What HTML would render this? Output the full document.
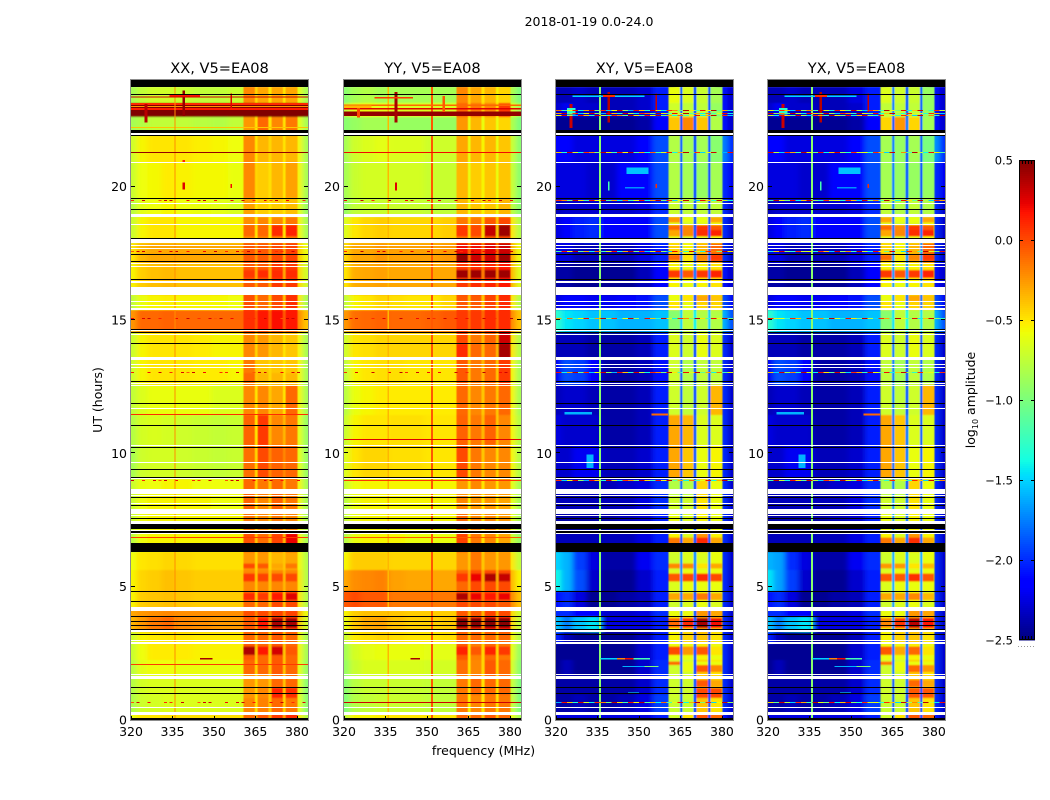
<!DOCTYPE html>
<html>
<head>
<meta charset="utf-8">
<title>2018-01-19 amplitude waterfall</title>
<style>
html,body{margin:0;padding:0;background:#fff;}
svg{display:block;}
text{font-family:"DejaVu Sans","Liberation Sans",sans-serif;fill:#000;}
</style>
</head>
<body>
<svg id="chart" xmlns="http://www.w3.org/2000/svg" width="1050" height="800" viewBox="0 0 1050 800">
<defs>
<filter id="softWide" x="-10%" y="-2%" width="120%" height="104%"><feGaussianBlur stdDeviation="2.6 0.9"/></filter>
<filter id="softBand" x="-2%" y="-2%" width="104%" height="104%"><feGaussianBlur stdDeviation="0.6 0.8"/></filter>
</defs>
<rect x="0" y="0" width="1050" height="800" fill="#fff"/>
<text x="589" y="26" font-size="12.5" text-anchor="middle">2018-01-19 0.0-24.0</text>
<text x="483.5" y="755" font-size="12.5" text-anchor="middle">frequency (MHz)</text>
<text transform="translate(102,400) rotate(-90)" font-size="12.5" text-anchor="middle">UT (hours)</text>
<text transform="translate(975,400) rotate(-90)" font-size="12.5" text-anchor="middle">log<tspan font-size="8" dy="3">10</tspan><tspan dy="-3"> amplitude</tspan></text>
</svg>
<script>
// Frequency bin edges (MHz) shared by all panels
const freqEdges = [320,322,326,331,336,342,349,355,360.6,364.8,365.8,369.8,370.8,374.9,375.9,380,382,384];
// Time bin edges (UT hours), top to bottom
const timeEdges = [23.75,23.14,22.61,21.94,20.93,19.58,18.86,17.89,17.14,15.94,15.38,14.55,13.58,12.56,11.44,10.31,9.04,8.44,7.73,7.01,6.3,5.63,4.84,4.16,3.86,3.3,2.85,2.25,1.69,0.94,0.26,0];
const xTicks = [320,335,350,365,380];
const yTicks = [0,5,10,15,20];
const colorbarTicks = [0.5,0,-0.5,-1,-1.5,-2,-2.5];
const vMin = -2.5;
const vMax = 0.5;

// log10 amplitude, rows follow timeEdges, columns follow freqEdges
const xxValues = [
[-.85,-.75,-.7,-.7,-.72,-.75,-.75,-.72,-.2,-.45,-.3,-.5,-.3,-.5,-.3,-.6,-.85],
[.5,.5,.5,.5,.5,.5,.5,.5,.5,.5,.5,.5,.5,.5,.5,.5,.5],
[-.85,-.8,-.75,-.75,-.75,-.78,-.8,-.75,-.25,-.5,-.1,-.5,-.2,-.5,-.15,-.6,-.85],
[-.7,-.55,-.5,-.5,-.5,-.53,-.55,-.58,-.2,-.5,-.35,-.45,-.35,-.5,-.35,-.55,-.85],
[-.72,-.58,-.56,-.52,-.54,-.56,-.56,-.6,-.2,-.45,-.42,-.48,-.35,-.5,-.28,-.55,-.85],
[-.78,-.62,-.58,-.55,-.58,-.6,-.62,-.66,-.28,-.5,-.42,-.5,-.42,-.5,-.38,-.6,-.9],
[-.72,-.55,-.5,-.5,-.55,-.55,-.55,-.55,-.22,-.5,-.2,-.5,-.2,-.5,-.15,-.55,-.85],
[-.5,-.35,-.3,-.3,-.3,-.3,-.3,-.3,-.05,-.25,-.05,-.25,0,-.3,.02,-.4,-.6],
[-.55,-.42,-.38,-.36,-.38,-.38,-.38,-.38,-.05,-.3,-.05,-.3,.05,-.3,.05,-.45,-.7],
[-.75,-.6,-.55,-.53,-.55,-.55,-.56,-.58,-.02,-.4,-.1,-.4,0,-.4,.08,-.5,-.85],
[-.25,-.1,-.1,-.08,-.1,-.1,-.1,-.1,.08,-.05,.15,-.05,.18,-.05,.15,-.2,-.4],
[-.72,-.55,-.5,-.5,-.5,-.52,-.55,-.55,-.2,-.45,-.25,-.4,-.35,-.5,-.4,-.55,-.85],
[-.7,-.55,-.5,-.5,-.5,-.52,-.52,-.55,-.15,-.4,-.4,-.45,-.4,-.5,-.4,-.55,-.85],
[-.75,-.65,-.6,-.6,-.6,-.6,-.65,-.65,-.2,-.5,-.2,-.4,-.3,-.5,-.1,-.55,-.85],
[-.8,-.68,-.66,-.68,-.7,-.72,-.74,-.72,-.08,-.5,.05,-.35,-.2,-.35,-.15,-.6,-.9],
[-.85,-.7,-.68,-.68,-.7,-.72,-.74,-.72,-.12,-.45,0,-.2,-.08,-.2,-.1,-.6,-.9],
[-.72,-.6,-.58,-.55,-.55,-.58,-.58,-.58,-.1,-.45,-.15,-.4,-.1,-.4,-.15,-.55,-.85],
[-.72,-.58,-.55,-.55,-.55,-.55,-.58,-.58,-.08,-.45,-.2,-.4,-.08,-.4,-.15,-.55,-.85],
[-.72,-.58,-.55,-.55,-.55,-.55,-.55,-.55,-.15,-.45,-.2,-.4,-.15,-.4,-.2,-.55,-.85],
[-.78,-.58,-.55,-.55,-.55,-.55,-.55,-.55,-.02,-.4,-.12,-.35,.02,-.35,.22,-.55,-.85],
[-.58,-.5,-.48,-.45,-.46,-.48,-.48,-.48,-.25,-.45,-.25,-.45,-.35,-.4,-.3,-.55,-.8],
[-.55,-.45,-.42,-.38,-.4,-.42,-.42,-.42,-.2,-.4,-.2,-.38,-.2,-.35,-.2,-.5,-.8],
[-.55,-.42,-.4,-.38,-.4,-.42,-.42,-.42,-.1,-.4,-.1,-.38,0,-.38,0,-.5,-.8],
[-.3,-.25,-.22,-.2,-.22,-.22,-.22,-.22,-.02,-.2,0,-.2,.02,-.2,.02,-.3,-.6],
[-.35,-.25,-.15,-.1,-.2,-.22,-.25,-.25,-.05,-.25,0,-.2,.05,-.2,.05,-.4,-.7],
[-.7,-.55,-.52,-.5,-.5,-.52,-.52,-.52,-.1,-.4,-.1,-.4,-.05,-.4,-.1,-.55,-.85],
[-.72,-.58,-.52,-.52,-.52,-.54,-.54,-.54,-.05,-.4,-.1,-.4,-.05,-.4,-.1,-.55,-.85],
[-.78,-.62,-.58,-.58,-.6,-.6,-.6,-.6,-.1,-.45,-.1,-.4,-.05,-.4,-.1,-.6,-.9],
[-.8,-.68,-.65,-.65,-.65,-.65,-.65,-.65,-.25,-.45,-.25,-.4,-.1,-.4,-.1,-.6,-.95],
[-.82,-.7,-.68,-.65,-.65,-.65,-.65,-.65,-.2,-.5,-.18,-.4,-.1,-.45,-.15,-.6,-.95],
[-.6,-.5,-.5,-.48,-.48,-.48,-.48,-.48,-.1,-.3,-.05,-.3,.05,-.3,.1,-.5,-.8]
];
const yyValues = [
[-.95,-.85,-.8,-.85,-.85,-.85,-.85,-.85,-.2,-.45,-.3,-.5,-.35,-.55,-.45,-.8,-1],
[-.75,-.62,-.6,-.62,-.65,-.65,-.65,-.65,-.1,-.4,-.15,-.4,-.2,-.45,.05,-.65,-.85],
[-.95,-.9,-.85,-.85,-.9,-.9,-.9,-.9,-.25,-.6,-.35,-.6,-.4,-.6,-.45,-.8,-1],
[-.85,-.7,-.65,-.62,-.65,-.65,-.7,-.7,-.3,-.6,-.35,-.55,-.35,-.6,-.4,-.7,-.95],
[-.85,-.72,-.68,-.68,-.68,-.68,-.72,-.72,-.35,-.6,-.42,-.55,-.4,-.6,-.4,-.7,-.95],
[-.9,-.75,-.72,-.72,-.72,-.72,-.75,-.75,-.35,-.6,-.4,-.55,-.4,-.6,-.35,-.75,-.95],
[-.65,-.5,-.45,-.42,-.45,-.45,-.45,-.42,-.15,-.45,-.15,-.45,-.05,-.4,0,-.5,-.8],
[-.45,-.3,-.3,-.25,-.28,-.28,-.28,-.25,.2,-.1,.2,-.1,.25,-.1,.3,-.3,-.6],
[-.5,-.32,-.3,-.28,-.3,-.3,-.3,-.3,.05,-.15,.1,-.15,.12,-.15,.15,-.35,-.65],
[-.75,-.55,-.5,-.45,-.48,-.5,-.5,-.45,-.05,-.4,-.05,-.4,.02,-.4,.1,-.5,-.8],
[-.25,-.12,-.1,-.08,-.1,-.1,-.08,-.05,.05,-.1,.05,-.1,.1,-.1,.1,-.2,-.4],
[-.7,-.5,-.48,-.45,-.45,-.45,-.45,-.45,0,-.4,-.15,-.35,-.08,-.35,.3,-.5,-.8],
[-.75,-.55,-.5,-.48,-.48,-.5,-.5,-.5,-.05,-.4,-.15,-.35,-.1,-.4,.05,-.55,-.85],
[-.78,-.6,-.55,-.52,-.52,-.52,-.52,-.52,-.1,-.4,-.2,-.4,-.15,-.4,-.1,-.55,-.85],
[-.72,-.55,-.5,-.5,-.48,-.48,-.5,-.5,-.08,-.4,-.15,-.35,-.08,-.4,-.2,-.55,-.8],
[-.65,-.5,-.45,-.45,-.48,-.48,-.5,-.5,0,-.45,-.15,-.4,-.2,-.45,-.2,-.55,-.8],
[-.72,-.58,-.55,-.55,-.55,-.55,-.55,-.55,-.25,-.5,-.2,-.5,-.25,-.5,-.25,-.6,-.85],
[-.78,-.6,-.55,-.55,-.55,-.55,-.55,-.55,-.2,-.55,-.25,-.5,-.25,-.5,-.3,-.6,-.85],
[-.75,-.58,-.55,-.55,-.55,-.55,-.55,-.55,-.1,-.5,-.2,-.5,-.2,-.5,-.25,-.6,-.85],
[-.8,-.6,-.55,-.55,-.55,-.6,-.6,-.6,.02,-.5,-.15,-.5,-.2,-.55,-.3,-.7,-.9],
[-.55,-.42,-.42,-.42,-.45,-.45,-.45,-.45,-.25,-.4,-.15,-.4,-.25,-.4,-.25,-.5,-.75],
[-.3,-.22,-.2,-.18,-.28,-.3,-.3,-.3,-.1,-.3,0,-.3,0,-.3,0,-.35,-.55],
[-.05,0,-.05,-.05,-.15,-.15,-.15,-.15,0,-.15,0,-.15,0,-.15,-.05,-.2,-.4],
[-.55,-.42,-.38,-.38,-.4,-.42,-.42,-.42,-.05,-.35,-.05,-.35,.02,-.35,0,-.45,-.7],
[-.6,-.4,-.3,-.28,-.38,-.42,-.42,-.4,.1,-.2,.1,-.2,.15,-.2,.15,-.45,-.75],
[-.72,-.52,-.48,-.45,-.48,-.5,-.5,-.48,-.1,-.4,-.1,-.4,-.1,-.4,-.1,-.55,-.8],
[-.85,-.68,-.62,-.6,-.6,-.6,-.62,-.62,-.05,-.5,-.18,-.45,-.1,-.45,-.15,-.6,-.9],
[-.9,-.72,-.66,-.66,-.66,-.66,-.68,-.68,-.12,-.5,-.2,-.45,-.05,-.45,-.1,-.65,-.95],
[-.95,-.78,-.72,-.72,-.72,-.72,-.74,-.74,-.15,-.5,-.1,-.5,-.1,-.5,-.1,-.7,-1],
[-.98,-.8,-.75,-.72,-.72,-.72,-.75,-.75,-.15,-.55,-.2,-.5,-.15,-.5,-.15,-.7,-1],
[-.75,-.55,-.55,-.52,-.5,-.5,-.5,-.5,-.1,-.4,-.1,-.4,-.05,-.4,-.1,-.6,-.85]
];
const xyValues = [
[-2.35,-2.35,-2.3,-2.35,-2.35,-2.35,-2.3,-2.05,-.6,-1.85,-.65,-1.9,-.72,-1.9,-.85,-2.1,-2.3],
[-2.3,-2.2,-2.3,-2.3,-2.35,-2.35,-2.3,-2.05,-.7,-1.85,-.75,-1.9,-.75,-1.9,-.9,-2.1,-2.3],
[-2.45,-2.45,-2.45,-2.45,-2.45,-2.45,-2.4,-2.15,-.4,-1.9,-.2,-1.85,-.4,-1.9,-.8,-2.1,-2.3],
[-2.15,-2.15,-2.25,-2.25,-2.25,-2.25,-2.15,-1.9,-.8,-1.85,-.85,-1.9,-.85,-1.9,-.95,-1.75,-2],
[-2.25,-2.25,-2.25,-2.3,-2.3,-2.15,-2.15,-1.9,-.8,-1.85,-.85,-1.9,-.9,-1.95,-.85,-2,-2.2],
[-2.35,-2.3,-2.3,-2.3,-2.3,-2.3,-2.25,-2,-.72,-1.85,-.75,-1.9,-.75,-1.95,-.75,-2,-2.3],
[-2.25,-2.15,-2.05,-2,-2.15,-2.15,-2.15,-1.9,-.65,-1.85,-.7,-1.85,-.65,-1.85,-.6,-2,-2.3],
[-2.25,-2.25,-2.35,-2.35,-2.35,-2.35,-2.25,-2.05,-.45,-1.75,-.55,-1.75,-.35,-1.75,-.1,-2,-2.3],
[-2.4,-2.4,-2.45,-2.45,-2.45,-2.45,-2.35,-2.15,-.55,-1.75,-.6,-1.75,-.55,-1.75,-.5,-2.1,-2.3],
[-2.25,-2.15,-2.15,-2.2,-2.2,-2.15,-2.1,-1.9,-.5,-1.75,-.6,-1.85,-.45,-1.85,-.45,-1.9,-2.2],
[-1.3,-1.45,-1.5,-1.55,-1.55,-1.6,-1.6,-1.55,-.95,-1.5,-.75,-1.4,-.8,-1.5,-.8,-1.6,-1.9],
[-2.35,-2.35,-2.35,-2.4,-2.4,-2.4,-2.35,-2.05,-.65,-1.85,-.7,-1.9,-.6,-1.9,-.65,-2,-2.3],
[-2.2,-1.9,-1.95,-2.15,-2.4,-2.4,-2.35,-2.1,-.7,-1.85,-.8,-1.9,-.75,-1.9,-.75,-2,-2.3],
[-2.35,-2.3,-2.3,-2.35,-2.4,-2.4,-2.35,-2.05,-.7,-1.85,-.75,-1.9,-.7,-1.9,-.35,-2,-2.3],
[-2.25,-2.3,-2.3,-2.3,-2.4,-2.4,-2.35,-2.05,-.3,-1.85,-.35,-1.85,-.65,-1.9,-.65,-2,-2.3],
[-2.3,-2.3,-2.2,-2.2,-2.35,-2.35,-2.3,-2.05,-.3,-1.85,-.4,-1.85,-.6,-1.9,-.55,-2,-2.3],
[-2.35,-2.35,-2.35,-2.35,-2.35,-2.3,-2.25,-2,-.8,-1.85,-.8,-1.9,-.45,-1.9,-.6,-2,-2.3],
[-2.35,-2.35,-2.35,-2.35,-2.35,-2.35,-2.25,-2,-.7,-1.75,-.7,-1.85,-.5,-1.85,-.6,-2,-2.3],
[-2.4,-2.4,-2.4,-2.4,-2.4,-2.35,-2.3,-2.05,-.6,-1.75,-.65,-1.85,-.55,-1.85,-.6,-2,-2.3],
[-2.35,-2.35,-2.35,-2.35,-2.35,-2.35,-2.25,-2.05,-.55,-1.85,-.65,-1.85,-.25,-1.85,-.55,-2,-2.3],
[-1.5,-1.6,-1.95,-2.25,-2.4,-2.4,-2.2,-2,-.7,-1.7,-.65,-1.7,-.65,-1.7,-.6,-2,-2.3],
[-1.4,-1.6,-1.9,-2.3,-2.45,-2.45,-2.3,-2.05,-.65,-1.7,-.6,-1.75,-.6,-1.75,-.6,-2,-2.3],
[-2.1,-2,-2.25,-2.45,-2.45,-2.4,-2.35,-2.05,-.7,-1.75,-.65,-1.85,-.6,-1.85,-.65,-2,-2.3],
[-2,-2,-2.15,-2.15,-2.3,-2.3,-2.25,-2,-.6,-1.75,-.6,-1.85,-.25,-1.85,-.3,-2,-2.3],
[-1.55,-1.75,-1.55,-1.45,-2.25,-2.25,-2.25,-2.05,-.55,-1.75,-.45,-1.85,-.25,-1.85,-.35,-2,-2.3],
[-2.05,-2.35,-2.45,-2.45,-2.45,-2.45,-2.35,-2.05,-.55,-1.85,-.45,-1.85,-.4,-1.85,-.5,-2,-2.3],
[-2.45,-2.45,-2.45,-2.45,-2.45,-2.45,-2.3,-2.05,-.6,-1.85,-.6,-1.85,-.55,-1.85,-.6,-2,-2.3],
[-2.45,-2.35,-2.45,-2.45,-2.45,-2.45,-2.3,-2,-.7,-1.85,-.7,-1.9,-.4,-1.9,-.5,-2,-2.3],
[-2.4,-2.4,-2.4,-2.4,-2.4,-2.4,-2.3,-2,-.72,-1.9,-.65,-1.85,-.4,-1.9,-.45,-2,-2.3],
[-2.4,-2.4,-2.35,-2.4,-2.4,-2.35,-2.25,-1.95,-.72,-1.9,-.72,-1.9,-.4,-1.9,-.5,-2,-2.3],
[-2.25,-2.25,-2.25,-2.25,-2.25,-2.25,-2.25,-2.05,-.7,-1.9,-.5,-1.9,-.05,-1.9,-.1,-2.1,-2.4]
];
const yxValues = [
[-2.35,-2.35,-2.3,-2.35,-2.35,-2.35,-2.25,-2.05,-.65,-1.75,-.7,-1.85,-.72,-1.85,-.9,-2.1,-2.3],
[-2.3,-2.2,-2.3,-2.3,-2.35,-2.35,-2.3,-2.05,-.75,-1.75,-.75,-1.85,-.75,-1.85,-.9,-2.1,-2.3],
[-2.45,-2.45,-2.45,-2.45,-2.45,-2.45,-2.4,-2.15,-.45,-1.85,-.25,-1.75,-.45,-1.85,-.85,-2.1,-2.3],
[-2.15,-2.15,-2.25,-2.25,-2.25,-2.25,-2.15,-1.9,-.85,-1.75,-.9,-1.85,-.85,-1.85,-1,-1.7,-2],
[-2.25,-2.25,-2.25,-2.3,-2.3,-2.15,-2.15,-1.9,-.85,-1.75,-.9,-1.85,-.9,-1.9,-.9,-2,-2.2],
[-2.35,-2.3,-2.3,-2.3,-2.3,-2.3,-2.25,-2,-.75,-1.75,-.8,-1.85,-.75,-1.9,-.8,-2,-2.3],
[-2.25,-2.15,-2.05,-2,-2.15,-2.15,-2.15,-1.9,-.65,-1.75,-.7,-1.75,-.65,-1.75,-.6,-2,-2.3],
[-2.25,-2.25,-2.35,-2.35,-2.35,-2.35,-2.25,-2.05,-.45,-1.65,-.55,-1.65,-.35,-1.65,-.1,-2,-2.3],
[-2.4,-2.4,-2.45,-2.45,-2.45,-2.45,-2.35,-2.15,-.55,-1.65,-.6,-1.65,-.55,-1.65,-.5,-2.1,-2.3],
[-2.25,-2.15,-2.15,-2.2,-2.2,-2.15,-2.1,-1.9,-.5,-1.65,-.6,-1.75,-.45,-1.75,-.45,-1.9,-2.2],
[-1.3,-1.45,-1.5,-1.55,-1.55,-1.6,-1.6,-1.55,-.95,-1.45,-.75,-1.35,-.8,-1.45,-.8,-1.6,-1.9],
[-2.35,-2.35,-2.35,-2.4,-2.4,-2.4,-2.35,-2.05,-.65,-1.75,-.7,-1.85,-.6,-1.85,-.65,-2,-2.3],
[-2.2,-1.9,-1.95,-2.15,-2.4,-2.4,-2.35,-2.1,-.75,-1.75,-.85,-1.85,-.75,-1.85,-.8,-2,-2.3],
[-2.35,-2.3,-2.3,-2.35,-2.4,-2.4,-2.35,-2.05,-.7,-1.75,-.75,-1.85,-.7,-1.85,-.35,-2,-2.3],
[-2.25,-2.3,-2.3,-2.3,-2.4,-2.4,-2.35,-2.05,-.3,-1.75,-.4,-1.75,-.65,-1.85,-.65,-2,-2.3],
[-2.3,-2.3,-2.2,-2.2,-2.35,-2.35,-2.3,-2.05,-.3,-1.75,-.4,-1.75,-.6,-1.85,-.55,-2,-2.3],
[-2.35,-2.35,-2.35,-2.35,-2.35,-2.3,-2.25,-2,-.8,-1.75,-.8,-1.85,-.45,-1.85,-.6,-2,-2.3],
[-2.35,-2.35,-2.35,-2.35,-2.35,-2.35,-2.25,-2,-.7,-1.65,-.7,-1.75,-.5,-1.75,-.6,-2,-2.3],
[-2.4,-2.4,-2.4,-2.4,-2.4,-2.35,-2.3,-2.05,-.6,-1.65,-.65,-1.75,-.55,-1.75,-.6,-2,-2.3],
[-2.35,-2.35,-2.35,-2.35,-2.35,-2.35,-2.25,-2.05,-.55,-1.75,-.65,-1.75,-.25,-1.75,-.55,-2,-2.3],
[-1.6,-1.65,-2,-2.25,-2.4,-2.4,-2.2,-2,-.7,-1.6,-.65,-1.6,-.65,-1.6,-.6,-2,-2.3],
[-1.45,-1.65,-1.95,-2.3,-2.45,-2.45,-2.3,-2.05,-.65,-1.6,-.6,-1.65,-.6,-1.65,-.6,-2,-2.3],
[-2.1,-2,-2.25,-2.45,-2.45,-2.4,-2.35,-2.05,-.7,-1.65,-.65,-1.75,-.6,-1.75,-.65,-2,-2.3],
[-2,-2,-2.15,-2.15,-2.3,-2.3,-2.25,-2,-.6,-1.65,-.6,-1.75,-.25,-1.75,-.3,-2,-2.3],
[-1.55,-1.75,-1.55,-1.45,-2.25,-2.25,-2.25,-2.05,-.55,-1.65,-.45,-1.75,-.25,-1.75,-.35,-2,-2.3],
[-2.05,-2.35,-2.45,-2.45,-2.45,-2.45,-2.35,-2.05,-.55,-1.75,-.45,-1.75,-.4,-1.75,-.5,-2,-2.3],
[-2.45,-2.45,-2.45,-2.45,-2.45,-2.45,-2.3,-2.05,-.6,-1.75,-.6,-1.75,-.55,-1.75,-.6,-2,-2.3],
[-2.45,-2.35,-2.45,-2.45,-2.45,-2.45,-2.3,-2,-.7,-1.75,-.7,-1.85,-.4,-1.85,-.5,-2,-2.3],
[-2.4,-2.4,-2.4,-2.4,-2.4,-2.4,-2.3,-2,-.72,-1.85,-.65,-1.75,-.4,-1.85,-.45,-2,-2.3],
[-2.4,-2.4,-2.35,-2.4,-2.4,-2.35,-2.25,-1.95,-.72,-1.85,-.72,-1.85,-.4,-1.85,-.5,-2,-2.3],
[-2.25,-2.25,-2.25,-2.25,-2.25,-2.25,-2.25,-2.05,-.7,-1.85,-.5,-1.85,-.05,-1.85,-.1,-2.1,-2.4]
];

// Brighter stretches inside the four receiver bands [UT top, UT bottom, band1, band2, band3, band4]
const xxBandStripes = [[18.56,18.13,-.1,-.1,.1,.12],[5.87,5.69,0,-.05,-.3,-.15],[5.5,5.19,.05,.02,0,0],[4.77,4.5,.1,.05,.15,.25],[3.82,3.45,-.05,.15,.4,.4],[2.75,2.44,.38,.15,.28,-.05],[1.2,.82,-.25,-.2,.12,.08],[16.88,16.58,.05,.1,.1,.1],[13.02,12.7,-.1,-.35,-.35,-.35]];
const yyBandStripes = [[18.56,18.13,.05,0,.32,.42],[16.88,16.58,.42,.42,.42,.42],[17.5,17.2,.45,.3,.3,.42],[3.82,3.45,.48,.48,.48,.48],[5.5,5.19,.05,.22,.38,.32],[4.77,4.5,.38,.22,.15,.22],[2.75,2.44,.12,-.05,.12,.05],[14.1,13.6,.1,-.1,-.1,.4]];
const xyBandStripes = [[5.87,5.69,-.2,-.2,-.5,-.3],[5.5,5.19,-.05,0,.1,0],[4.77,4.5,-.3,-.3,-.15,-.3],[3.82,3.45,-.1,.1,.4,.2],[2.75,2.44,0,-.25,-.05,-.5],[2.19,2.06,-.1,-.6,-.6,-.6],[2.06,1.8,-.7,-.6,-.05,-.2],[1.5,1.24,-.7,-.7,-.05,-.3],[1.2,.82,-.7,-.7,0,0],[6.85,6.6,-.15,-.3,.1,-.3],[18.56,18.38,-.1,-.2,.05,-.05],[18.38,18.13,-.3,-.2,.08,.12],[18.86,18.66,-.25,-.6,-.6,-.3],[17.45,17.24,-.1,-.5,-.2,.05],[16.88,16.58,.05,-.05,.05,.12],[15.94,15.7,-.6,-.5,-.3,-.4]];
const yxBandStripes = [[5.87,5.69,-.25,-.25,-.5,-.35],[5.5,5.19,-.05,-.05,.08,-.05],[4.77,4.5,-.3,-.3,-.2,-.35],[3.82,3.45,-.2,.05,.35,.15],[2.75,2.44,-.05,-.3,-.1,-.5],[2.19,2.06,-.15,-.6,-.6,-.6],[2.06,1.8,-.7,-.6,-.1,-.25],[1.5,1.24,-.7,-.7,-.1,-.3],[1.2,.82,-.7,-.7,-.05,-.05],[6.85,6.6,-.15,-.3,.08,-.3],[18.56,18.38,-.1,-.2,.05,-.05],[18.38,18.13,-.3,-.2,.08,.12],[18.86,18.66,-.3,-.6,-.6,-.3],[17.45,17.24,-.1,-.5,-.2,.05],[16.88,16.58,.05,-.05,.05,.12],[15.94,15.7,-.6,-.5,-.3,-.4]];

// Flagged time ranges [UT top, UT bottom]
const whiteFlags = [[22,21.94],[20.93,20.89],[19.39,19.35],[18.99,18.85],[18.6,18.56],[18.05,17.88],[17.81,17.78],[17.7,17.66],[17.14,17.1],[17.02,16.99],[16.47,16.38],[16.25,15.94],[15.71,15.68],[15.56,15.53],[15.45,15.38],[14.61,14.58],[14.49,14.44],[13.6,13.5],[13.35,13.31],[13.24,13.2],[12.62,12.59],[12.56,12.53],[11.7,11.66],[10.3,10.26],[9.68,9.64],[9.06,9.03],[8.66,8.46],[8.44,8.4],[8.14,8.1],[7.9,7.73],[7.69,7.65],[7.46,7.35],[7.14,7.11],[7.01,6.98],[4.23,4.09],[3.38,3.29],[3,2.96],[2.93,2.86],[1.73,1.69],[1.66,1.53],[.49,.45],[.29,.19]];
const blackFlags = [[24,23.75],[23.48,23.44],[22.13,22],[21.94,21.9],[19.58,19.54],[19.16,19.13],[18.08,18.05],[17.48,17.44],[17.21,17.18],[16.53,16.5],[14.66,14.63],[14.54,14.51],[14.14,14.1],[12.7,12.66],[11.89,11.85],[11.06,11.03],[10.24,10.2],[9.41,9.38],[9.11,9.07],[8.36,8.33],[8.05,8.01],[7.58,7.54],[7.34,7.15],[7.1,7.02],[6.62,6.58],[6.56,6.31],[4.84,4.8],[4.46,4.43],[3.89,3.85],[3.7,3.66],[3.55,3.51],[3.41,3.38],[3.23,3.19],[1.24,1.2],[1.01,.98],[.06,0]];

// Localised features [MHz from, MHz to, UT top, UT bottom, value]
const xxPatches = [[320,384,23.14,23.07,.1],[320,384,23.03,22.98,-.25],[320,384,22.95,22.88,.15],[320,384,22.24,22.2,-.4],[335.7,336.1,24,0,-.22],[338.6,339.6,23.6,22.65,.45],[334,345,23.47,23.38,.15],[324.9,326,23.1,22.4,.35],[355.9,356.6,23.5,22.95,.25],[338.7,339.5,20.15,19.9,.25],[338.7,339.5,21,20.9,.1],[355.9,356.6,20.1,19.95,.2],[345,349.5,2.33,2.27,.4],[320,384,23.38,23.35,.3]];
const yyPatches = [[351.5,352.1,24,0,-.05],[335.7,336.2,24,0,-.35],[320,384,22.82,22.65,.45],[320,384,23.08,23.03,-.1],[320,384,22.95,22.9,.25],[338.3,339.3,23.55,22.4,.4],[331,345,23.36,23.3,.05],[324.7,325.8,23.05,22.6,0],[355.6,356.6,23.4,22.8,-.05],[338.4,339.2,20.15,19.85,.25],[344,347.5,2.33,2.27,.4],[320,330,23.05,22.95,-.35]];
const xyPatches = [[335.6,336.2,24,0,-.95],[338.7,339.5,23.55,22.4,.35],[326,352,23.42,23.36,-1.5],[337,341.4,23.48,23.36,.1],[324.9,326,23.1,22.2,.3],[324,327,22.95,22.7,-1.3],[355.9,356.6,23.5,22.8,.3],[345.5,353.5,20.72,20.48,-1.55],[338.8,339.4,20.2,19.85,-1.2],[355.9,356.5,20.1,19.95,.1],[331,333.5,9.95,9.45,-1.6],[336,342,2.33,2.27,-1.5],[342,345,2.33,2.27,-.2],[345,348,2.33,2.27,.2],[348,354,2.33,2.27,-1.2],[344,352,2.03,2,-1.6],[352,357,2.03,2,-1],[354.5,360.5,11.5,11.42,-.1],[323,333,11.55,11.45,-1.6],[346,350,1.03,1,-1.4],[345,352,19.98,19.93,-1.7]];
const yxPatches = [[335.6,336.2,24,0,-.95],[338.7,339.5,23.55,22.4,.35],[326,352,23.42,23.36,-1.5],[337,341.4,23.48,23.36,.1],[324.9,326,23.1,22.2,.3],[324,327,22.95,22.7,-1.3],[355.9,356.6,23.5,22.8,.3],[345.5,353.5,20.72,20.48,-1.55],[338.8,339.4,20.2,19.85,-1.2],[355.9,356.5,20.1,19.95,.1],[331,333.5,9.95,9.45,-1.6],[336,342,2.33,2.27,-1.5],[342,345,2.33,2.27,-.2],[345,348,2.33,2.27,.2],[348,354,2.33,2.27,-1.2],[344,352,2.03,2,-1.6],[352,357,2.03,2,-1],[354.5,360.5,11.5,11.42,-.1],[323,333,11.55,11.45,-1.6],[346,350,1.03,1,-1.4],[345,352,19.98,19.93,-1.7]];

// Full-width single-row lines [UT, value]
const xxSolidLines = [[21.29,.45],[11.46,.1],[6.85,.05],[2.1,.05]];
const yySolidLines = [[21.29,.2],[10.54,.25],[9.01,.05],[6.85,-.05],[.66,.3]];
const xySolidLines = [];
const yxSolidLines = [];

// Speckled RFI rows
const xxSpeckleRows = [19.49,17.57,15.09,13.04,9.01,.66];
const yySpeckleRows = [19.49,17.57,15.09,13.04];
const xySpeckleRows = [22.88,22.77,22.68,21.29,19.49,17.57,15.09,13.04,9.01,.66];
const yxSpeckleRows = [22.88,22.77,22.68,21.29,19.49,17.57,15.09,13.04,9.01,.66];

const xxSpeckle = [.1,null,.3,null,null,-.05,.3,.3,null,null,.2,null,.25,.3,null,.15,null,null,.2,null,.3,null,.1,null,.25,-.05,.3,null,.2,null,null,.1];
const yySpeckle = [.2,null,null,.3,null,.1,null,null,.35,null,null,.2,.3,null,null,.1,null,.25,null,null,.3,null,null,.2,null,.35,.1,null,.3,null,.2,null];
const xySpeckle = [-.1,-1.2,-.6,.2,-1.4,-.3,.35,-1,.1,-1.5,-.6,.3,-.9,-1.6,.2,-.4,-1.3,.3,-.7,-1.4,.1,-.2,-1,.35,-.5,-1.2,.2,-.6,.35,-1.1,-.3,-1.4];
const yxSpeckle = [-.6,-1.3,.1,-.4,-1.5,.3,-.9,-.2,-1.2,.35,-.7,-1.4,.2,-.5,-1.1,.3,-.8,-1.5,.1,-.3,-1.2,.35,-.6,-1,.2,-1.4,-.4,.3,-.9,-1.3,.1,-.7];

const panelList = [
  {key:'xx',title:'XX, V5=EA08',left:131,values:xxValues,stripes:xxBandStripes,patches:xxPatches,solid:xxSolidLines,speckleRows:xxSpeckleRows,speckle:xxSpeckle,dotFill:.45},
  {key:'yy',title:'YY, V5=EA08',left:344,values:yyValues,stripes:yyBandStripes,patches:yyPatches,solid:yySolidLines,speckleRows:yySpeckleRows,speckle:yySpeckle,dotFill:.45},
  {key:'xy',title:'XY, V5=EA08',left:556,values:xyValues,stripes:xyBandStripes,patches:xyPatches,solid:xySolidLines,speckleRows:xySpeckleRows,speckle:xySpeckle,dotFill:1},
  {key:'yx',title:'YX, V5=EA08',left:768,values:yxValues,stripes:yxBandStripes,patches:yxPatches,solid:yxSolidLines,speckleRows:yxSpeckleRows,speckle:yxSpeckle,dotFill:1}
];

const NS = 'http://www.w3.org/2000/svg';
const root = document.getElementById('chart');
const panelWidth = 177;
const panelHeight = 640;
const panelTop = 80;
const freqMin = 320;
const freqMax = 384;
const utMax = 24;
const bandColumns = [8,10,12,14];

function jetPart(t, stops){
  for(let i=1;i<stops.length;i++){
    if(t<=stops[i][0]){
      const a=stops[i-1], b=stops[i];
      return a[1]+(b[1]-a[1])*(t-a[0])/(b[0]-a[0]);
    }
  }
  return stops[stops.length-1][1];
}
function jet(v){
  const t=Math.max(0,Math.min(1,(v-vMin)/(vMax-vMin)));
  const r=jetPart(t,[[0,0],[.35,0],[.66,1],[.89,1],[1,.5]]);
  const g=jetPart(t,[[0,0],[.125,0],[.375,1],[.64,1],[.91,0],[1,0]]);
  const b=jetPart(t,[[0,.5],[.11,1],[.34,1],[.65,0],[1,0]]);
  return 'rgb('+Math.round(r*255)+','+Math.round(g*255)+','+Math.round(b*255)+')';
}
function yScale(ut){ return panelTop+(utMax-ut)*panelHeight/utMax; }
function svgEl(tag, attrs, parent){
  const el=document.createElementNS(NS,tag);
  for(const k in attrs){ el.setAttribute(k,attrs[k]); }
  parent.appendChild(el);
  return el;
}

panelList.forEach(function(p){
  const xScale=function(f){ return p.left+(f-freqMin)*panelWidth/(freqMax-freqMin); };
  const panel=svgEl('g',{},root);
  
  

  const clip=svgEl('clipPath',{id:'clip-'+p.key},panel);
  svgEl('rect',{x:p.left,y:panelTop,width:panelWidth,height:panelHeight},clip);
  const clipped=svgEl('g',{'clip-path':'url(#clip-'+p.key+')'},panel);
  
  
  const wide=svgEl('g',{filter:'url(#softWide)','shape-rendering':'crispEdges'},clipped);
  const band=svgEl('g',{filter:'url(#softBand)','shape-rendering':'crispEdges'},clipped);

  p.values.forEach(function(row,ri){
    row.forEach(function(val,ci){
      const inBand=ci>=8 && ci<=14;
      const pad0=ci===0?8:(ci===15?6:0);
      const pad1=ci===row.length-1?8:(ci===7?6:0);
      const x0=xScale(freqEdges[ci])-pad0;
      const x1=xScale(freqEdges[ci+1])+pad1;
      const y0=yScale(timeEdges[ri]);
      const y1=yScale(timeEdges[ri+1]);
      const cell=svgEl('rect',{x:x0,y:y0,width:x1-x0+.5,height:y1-y0+.5,fill:jet(val)},inBand?band:wide);
      
      
    });
  });
  p.stripes.forEach(function(s){
    bandColumns.forEach(function(col,bi){
      const x0=xScale(freqEdges[col]);
      const x1=xScale(freqEdges[col+1]);
      const y0=yScale(s[0]);
      const y1=yScale(s[1]);
      const stripe=svgEl('rect',{x:x0,y:y0,width:x1-x0,height:y1-y0,fill:jet(s[bi+2])},band);
      
      
    });
  });

  const sharp=svgEl('g',{'shape-rendering':'crispEdges'},clipped);
  p.patches.forEach(function(d){
    const x0=xScale(d[0]),x1=xScale(d[1]),y0=yScale(d[2]),y1=yScale(d[3]);
    const patch=svgEl('rect',{x:x0,y:y0,width:Math.max(1,x1-x0),height:Math.max(1,y1-y0),fill:jet(d[4])},sharp);
    
    
  });
  p.solid.forEach(function(d){
    const line=svgEl('rect',{x:p.left,y:Math.round(yScale(d[0])),width:panelWidth,height:1,fill:jet(d[1])},sharp);
    
    
  });
  p.speckleRows.forEach(function(ut,rowIndex){
    const n=p.speckle.length;
    for(let i=0;i<n;i++){
      const val=p.speckle[(i+rowIndex*5)%n];
      if(val===null) continue;
      const f0=freqMin+(freqMax-freqMin)*i/n;
      const dot=svgEl('rect',{x:xScale(f0),y:Math.round(yScale(ut)),width:panelWidth/n*p.dotFill+.5,height:1,fill:jet(val)},sharp);
      
      
    }
  });
  whiteFlags.forEach(function(d){
    const y0=Math.round(yScale(d[0])),y1=Math.max(y0+1,Math.round(yScale(d[1])));
    const flag=svgEl('rect',{x:p.left,y:y0,width:panelWidth,height:y1-y0,fill:'#fff'},sharp);
    
    
  });
  blackFlags.forEach(function(d){
    const y0=Math.round(yScale(d[0])),y1=Math.max(y0+1,Math.round(yScale(d[1])));
    const flag=svgEl('rect',{x:p.left,y:y0,width:panelWidth,height:y1-y0,fill:'#000'},sharp);
    
    
  });

  const frame=svgEl('rect',{x:p.left-.5,y:panelTop-.5,width:panelWidth+1,height:panelHeight+1,fill:'none',stroke:'#8c8c8c','stroke-width':1},panel);
  
  

  xTicks.forEach(function(f){
    const x=Math.round(xScale(f))+.5;
    const t1=svgEl('line',{x1:x,x2:x,y1:panelTop+panelHeight,y2:panelTop+panelHeight-4,stroke:'#000','stroke-width':1},panel);
    
    
    const t2=svgEl('line',{x1:x,x2:x,y1:panelTop,y2:panelTop+4,stroke:'#000','stroke-width':1},panel);
    
    
    const lab=svgEl('text',{x:xScale(f),y:736,'font-size':12.5,'text-anchor':'middle'},panel);
    lab.textContent=String(f);
    
    
  });
  yTicks.forEach(function(u){
    const y=Math.round(yScale(u))-.5;
    const t1=svgEl('line',{x1:p.left,x2:p.left+4,y1:y,y2:y,stroke:'#000','stroke-width':1},panel);
    
    
    const t2=svgEl('line',{x1:p.left+panelWidth,x2:p.left+panelWidth-4,y1:y,y2:y,stroke:'#000','stroke-width':1},panel);
    
    
    const lab=svgEl('text',{x:p.left-4,y:yScale(u)+4.5,'font-size':12.5,'text-anchor':'end'},panel);
    lab.textContent=String(u);
    
    
  });
  const ttl=svgEl('text',{x:p.left+panelWidth/2,y:73,'font-size':14.6,'text-anchor':'middle'},panel);
  ttl.textContent=p.title;
  
  
});

// Colorbar
const cbLeft=1019, cbWidth=16, cbTop=160, cbHeight=480;
const cbScale=function(v){ return cbTop+(vMax-v)*cbHeight/(vMax-vMin); };
const cb=svgEl('g',{},root);


const cbFill=svgEl('g',{'shape-rendering':'crispEdges'},cb);
const cbSteps=240;
for(let i=0;i<cbSteps;i++){
  const v=vMax-(i+.5)*(vMax-vMin)/cbSteps;
  const s=svgEl('rect',{x:cbLeft,y:cbTop+i*cbHeight/cbSteps,width:cbWidth,height:cbHeight/cbSteps+.5,fill:jet(v)},cbFill);
  
  
}
const cbFrame=svgEl('rect',{x:cbLeft+.5,y:cbTop+.5,width:cbWidth-1,height:cbHeight-1,fill:'none',stroke:'#000','stroke-width':1},cb);


colorbarTicks.forEach(function(v){
  const y=Math.min(cbTop+cbHeight-.5,Math.round(cbScale(v))+.5);
  const t1=svgEl('line',{x1:cbLeft,x2:cbLeft+4,y1:y,y2:y,stroke:'#000','stroke-width':1},cb);
  
  
  const t2=svgEl('line',{x1:cbLeft+cbWidth,x2:cbLeft+cbWidth-4,y1:y,y2:y,stroke:'#000','stroke-width':1},cb);
  
  
  const lab=svgEl('text',{x:1013,y:cbScale(v)+4.5,'font-size':11.5,'text-anchor':'end'},cb);
  lab.textContent=(v<0?'\u2212':'')+Math.abs(v).toFixed(1);
  
  
});
const cbEdgeTicks=[cbLeft+3,cbLeft+6,cbLeft+9,cbLeft+12];
cbEdgeTicks.forEach(function(x){
  const top=svgEl('line',{x1:x+.5,x2:x+.5,y1:cbTop,y2:cbTop+4,stroke:'#000','stroke-width':1},cb);
  
  
  const bottom=svgEl('line',{x1:x+.5,x2:x+.5,y1:cbTop+cbHeight,y2:cbTop+cbHeight-4,stroke:'#000','stroke-width':1},cb);
  
  
});
const cbDots=svgEl('line',{x1:1018,x2:1035,y1:646.5,y2:646.5,stroke:'#999','stroke-width':1,'stroke-dasharray':'1 2'},cb);


</script>
</body>
</html>
